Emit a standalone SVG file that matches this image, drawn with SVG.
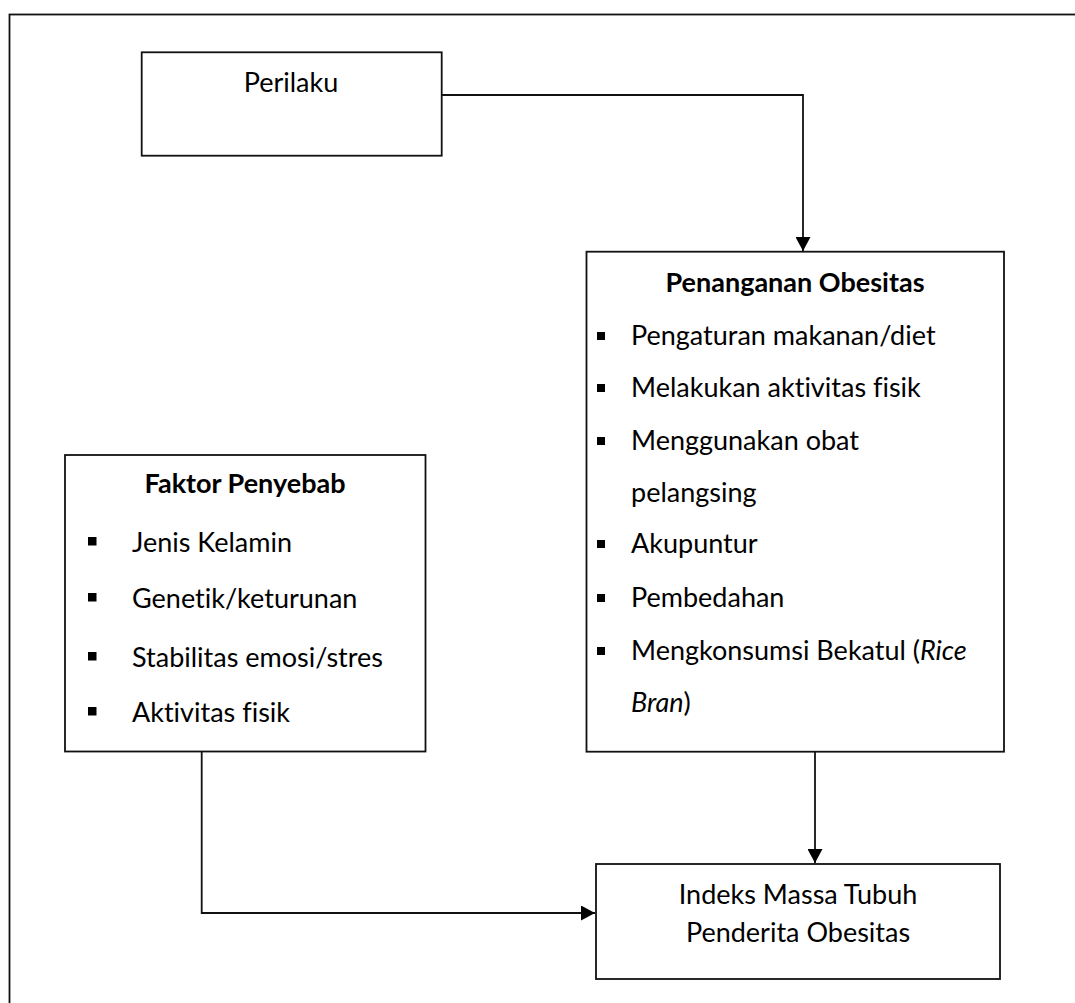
<svg xmlns="http://www.w3.org/2000/svg" width="1075" height="1003" viewBox="0 0 1075 1003">
  <style>
    .box { fill: #ffffff; stroke: #111111; stroke-width: 1.8; }
    .frame { fill: none; stroke: #111111; stroke-width: 1.8; }
    .conn { fill: none; stroke: #111111; stroke-width: 1.8; }
    text { font-family: Lato, "Liberation Sans", sans-serif; font-size: 27px; fill: #000000; font-variant-ligatures: none; font-feature-settings: "liga" 0, "clig" 0; }
    .title { font-weight: bold; text-anchor: middle; }
    .center { text-anchor: middle; }
    .bullet { fill: #000000; }
  </style>
  <defs>
    <marker id="arrow" markerWidth="14" markerHeight="15" refX="14" refY="7.5" orient="auto" markerUnits="userSpaceOnUse">
      <path d="M0,0 L14,7.5 L0,15 Z" fill="#000000"/>
    </marker>
  </defs>
  <rect width="1075" height="1003" fill="#ffffff"/>
  <rect class="frame" x="9.5" y="14.5" width="1080" height="1010"/>

  <g id="connectors">
    <path class="conn" d="M441.7,95 H803 V251" marker-end="url(#arrow)"/>
    <path class="conn" d="M815,752 V863" marker-end="url(#arrow)"/>
    <path class="conn" d="M201.7,752 V913 H595" marker-end="url(#arrow)"/>
  </g>

  <g id="perilaku">
    <rect class="box" x="141.7" y="52.3" width="300" height="103.4"/>
    <text class="center" x="291" y="91.7">Perilaku</text>
  </g>

  <g id="penanganan">
    <rect class="box" x="586.5" y="251.7" width="417.5" height="500"/>
    <text class="title" x="795" y="292">Penanganan Obesitas</text>
    <rect class="bullet" x="597" y="332" width="8" height="8"/>
    <text x="631" y="345">Pengaturan makanan/diet</text>
    <rect class="bullet" x="597" y="384" width="8" height="8"/>
    <text x="631" y="397">Melakukan aktivitas fisik</text>
    <rect class="bullet" x="597" y="437" width="8" height="8"/>
    <text x="631" y="450">Menggunakan obat</text>
    <text x="631" y="502">pelangsing</text>
    <rect class="bullet" x="597" y="540" width="8" height="8"/>
    <text x="631" y="553">Akupuntur</text>
    <rect class="bullet" x="597" y="594" width="8" height="8"/>
    <text x="631" y="607">Pembedahan</text>
    <rect class="bullet" x="597" y="647" width="8" height="8"/>
    <text x="631" y="660">Mengkonsumsi Bekatul (<tspan font-style="italic">Rice</tspan></text>
    <text x="631" y="712"><tspan font-style="italic">Bran</tspan>)</text>
  </g>

  <g id="faktor">
    <rect class="box" x="65" y="455" width="360.5" height="296.5"/>
    <text class="title" x="245" y="493">Faktor Penyebab</text>
    <rect class="bullet" x="88" y="537" width="8.5" height="8.5"/>
    <text x="132" y="552">Jenis Kelamin</text>
    <rect class="bullet" x="88" y="593" width="8.5" height="8.5"/>
    <text x="132" y="608">Genetik/keturunan</text>
    <rect class="bullet" x="88" y="652" width="8.5" height="8.5"/>
    <text x="132" y="667">Stabilitas emosi/stres</text>
    <rect class="bullet" x="88" y="707" width="8.5" height="8.5"/>
    <text x="132" y="722">Aktivitas fisik</text>
  </g>

  <g id="indeks">
    <rect class="box" x="596" y="864" width="404" height="115"/>
    <text class="center" x="798" y="904">Indeks Massa Tubuh</text>
    <text class="center" x="798" y="941.7">Penderita Obesitas</text>
  </g>
</svg>
